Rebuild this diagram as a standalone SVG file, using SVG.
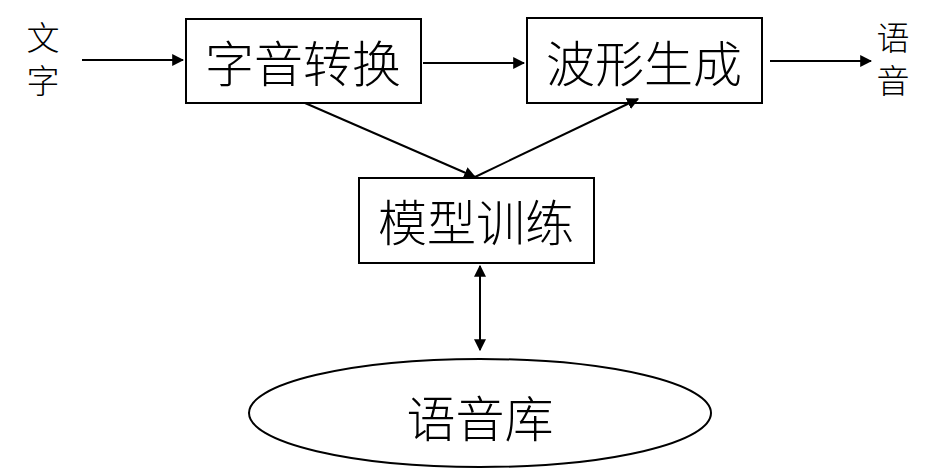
<svg xmlns="http://www.w3.org/2000/svg" width="936" height="470" viewBox="0 0 936 470">
<style>
.box{fill:#fff;stroke:#000;stroke-width:2}
.t{font-family:"Noto Sans CJK SC","Noto Sans CJK JP",sans-serif;font-weight:300;fill:#000;text-anchor:middle;dominant-baseline:central}
.big{font-size:49px}
.v{font-family:"Noto Sans CJK SC","Noto Sans CJK JP",sans-serif;font-weight:300;fill:#000;font-size:33px;writing-mode:vertical-rl;text-anchor:middle;letter-spacing:10px}
.c{stroke:#000;stroke-width:2;fill:none}
</style>
<defs>
<marker id="ah" viewBox="0 0 10 10" refX="9" refY="5" markerWidth="12" markerHeight="12" markerUnits="userSpaceOnUse" orient="auto-start-reverse">
<path d="M0,0 L10,5 L0,10 z" fill="#000"/>
</marker>
</defs>
<g id="input"><text class="v" x="43" y="64">文字</text></g>
<g id="output"><text class="v" x="893" y="64">语音</text></g>
<g id="g2p"><rect class="box" x="186" y="19" width="235" height="84"/><text class="t big" x="303" y="60">字音转换</text></g>
<g id="wave"><rect class="box" x="527" y="18" width="235" height="85"/><text class="t big" x="644" y="60">波形生成</text></g>
<g id="train"><rect class="box" x="359" y="178" width="235" height="85"/><text class="t big" x="476" y="219">模型训练</text></g>
<g id="db"><ellipse class="box" cx="480" cy="413" rx="231" ry="54"/><text class="t big" x="480" y="415">语音库</text></g>
<g id="connectors">
<line class="c" x1="82" y1="60" x2="183" y2="60" marker-end="url(#ah)"/>
<line class="c" x1="423" y1="63" x2="524" y2="63" marker-end="url(#ah)"/>
<line class="c" x1="770" y1="61" x2="871" y2="61" marker-end="url(#ah)"/>
<line class="c" x1="305" y1="103" x2="475" y2="177" marker-end="url(#ah)"/>
<line class="c" x1="475" y1="177" x2="638" y2="99" marker-end="url(#ah)"/>
<line class="c" x1="480" y1="266" x2="480" y2="350" marker-start="url(#ah)" marker-end="url(#ah)"/>
</g>
</svg>
